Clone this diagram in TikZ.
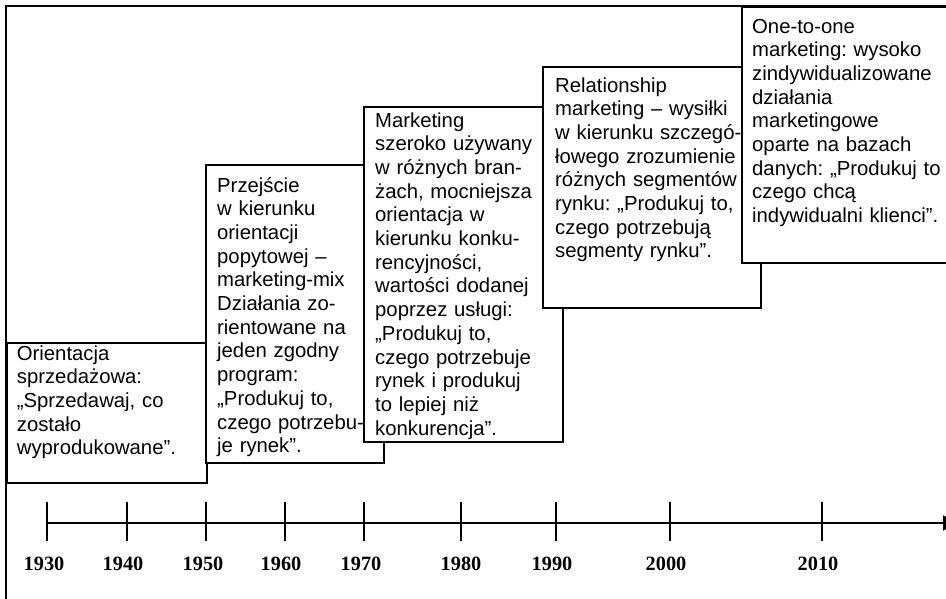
\documentclass[tikz,border=0pt]{standalone}
\usepackage{fontspec}
\setmainfont{Liberation Sans}
\newfontfamily\yearfont{Liberation Serif}
\usetikzlibrary{arrows.meta}
\frenchspacing
% one line of a box: stretched to the full width, or left as set
\newcommand\jl[1]{\makebox[\linewidth][s]{#1}}
\newcommand\rl[1]{\makebox[\linewidth][l]{#1}}
\begin{document}
\begin{tikzpicture}[x=1pt,y=-1pt,
  frameline/.style={draw=black, line width=1.8pt},
  stage/.style={draw=black, line width=1.2pt, fill=white},
  stagetext/.style={anchor=base west, inner sep=0pt, align=left,
    font=\fontsize{20.3}{23.7}\selectfont},
  yearlabel/.style={anchor=base, inner sep=0pt,
    font=\yearfont\bfseries\fontsize{20.3}{21}\selectfont},
  axisline/.style={line width=1.4pt, -{Triangle[length=15pt,width=15pt]}},
  yeartick/.style={line width=1.4pt}
]
\useasboundingbox (0,0) rectangle (946,598);

% outer frame (runs past the right and bottom page edges)
\draw[frameline] (960,6) -- (6,6) -- (6,610);

% stage boxes, each laid over the previous one
\draw[stage] (7,343) rectangle (207,483);
\node[stagetext, text width=152pt] (sales) at (16.7,360)
  {\rl{Orientacja}\\ \rl{sprzedażowa:}\\ \rl{„Sprzedawaj, co}\\ \rl{zostało}\\ \rl{wyprodukowane”.}};

\draw[stage] (206,165) rectangle (384,463);
\node[stagetext, text width=128pt] (mix) at (217,192)
  {\rl{Przejście}\\ \rl{w kierunku}\\ \rl{orientacji}\\ \rl{popytowej –}\\
   \jl{marketing-mix}\\ \jl{Działania zo-}\\ \jl{rientowane na}\\ \jl{jeden zgodny}\\
   \rl{program:}\\ \rl{„Produkuj to,}\\ \jl{czego potrzebu-}\\ \rl{je rynek”.}};

\draw[stage] (364,107) rectangle (563,442);
\node[stagetext, text width=166pt] (compet) at (375,127)
  {\rl{Marketing}\\ \jl{szeroko używany}\\ \jl{w różnych bran-}\\ \jl{żach, mocniejsza}\\
   \rl{orientacja w}\\ \jl{kierunku konku-}\\ \rl{rencyjności,}\\ \jl{wartości dodanej}\\
   \rl{poprzez usługi:}\\ \rl{„Produkuj to,}\\ \jl{czego potrzebuje}\\ \jl{rynek i produkuj}\\
   \rl{to lepiej niż}\\ \rl{konkurencja”.}};

\draw[stage] (543,67) rectangle (761,308);
\node[stagetext, text width=181pt] (relation) at (555,92)
  {\rl{Relationship}\\ \jl{marketing – wysiłki}\\ \jl{w kierunku szczegó-}\\
   \jl{łowego zrozumienie}\\ \jl{różnych segmentów}\\ \jl{rynku: „Produkuj to,}\\
   \rl{czego potrzebują}\\ \rl{segmenty rynku”.}};

\draw[stage] (742,7) rectangle (962,263);
\node[stagetext, text width=200pt] (onetoone) at (752,33)
  {\rl{One-to-one}\\ \rl{marketing: wysoko}\\ \rl{zindywidualizowane}\\ \rl{działania}\\
   \rl{marketingowe}\\ \rl{oparte na bazach}\\ \rl{danych: „Produkuj to}\\
   \rl{czego chcą}\\ \rl{indywidualni klienci”.}};

% time axis
\coordinate (axisstart) at (47,523);
\coordinate (axisend) at (958,523);
\draw[axisline] (axisstart) -- (axisend);

\foreach \tx/\lx/\yr in {47/44/1930, 127/123/1940, 206/203/1950, 285/281/1960,
    364/361/1970, 461/461/1980, 556/552/1990, 670/666/2000, 822/818/2010}{
  \draw[yeartick] (\tx,502) -- (\tx,541);
  \node[yearlabel] (y\yr) at (\lx,570.5) {\yr};
}
\end{tikzpicture}
\end{document}
